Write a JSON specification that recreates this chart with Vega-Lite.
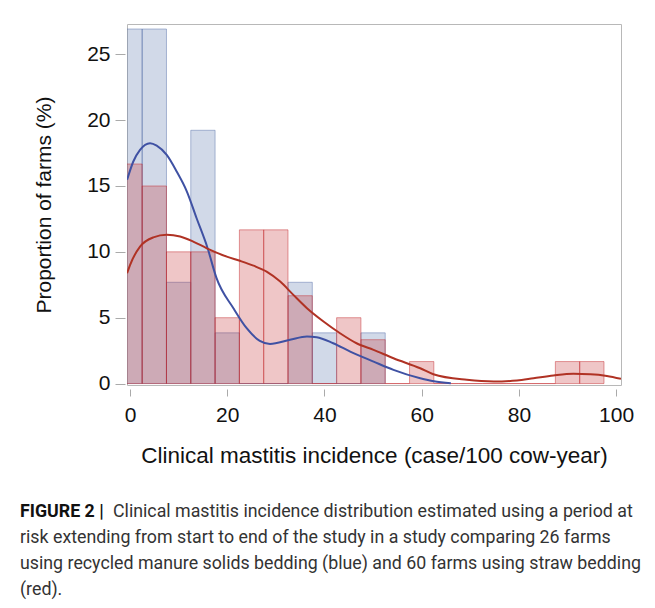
{
  "$schema": "https://vega.github.io/schema/vega-lite/v6.json",
  "padding": {"left": 20, "top": 23, "right": 5, "bottom": 5},
  "background": "white",
  "config": {
    "view": {"stroke": "#b8b8b8", "strokeWidth": 1},
    "font": "Liberation Sans",
    "axis": {
      "labelFont": "Liberation Sans",
      "titleFont": "Liberation Sans",
      "labelFontSize": 21,
      "titleFontWeight": "normal",
      "labelColor": "#111",
      "titleColor": "#111",
      "tickColor": "#aaaaaa",
      "domain": false,
      "grid": false
    }
  },
  "datasets": {
    "bars": [
      {"group": "blue", "start": -2.5, "end": 2.5, "pct": 26.92},
      {"group": "blue", "start": 2.5, "end": 7.5, "pct": 26.92},
      {"group": "blue", "start": 7.5, "end": 12.5, "pct": 7.69},
      {"group": "blue", "start": 12.5, "end": 17.5, "pct": 19.23},
      {"group": "blue", "start": 17.5, "end": 22.5, "pct": 3.85},
      {"group": "blue", "start": 22.5, "end": 27.5, "pct": 0},
      {"group": "blue", "start": 27.5, "end": 32.5, "pct": 0},
      {"group": "blue", "start": 32.5, "end": 37.5, "pct": 7.69},
      {"group": "blue", "start": 37.5, "end": 42.5, "pct": 3.85},
      {"group": "blue", "start": 42.5, "end": 47.5, "pct": 0},
      {"group": "blue", "start": 47.5, "end": 52.5, "pct": 3.85},
      {"group": "red", "start": -2.5, "end": 2.5, "pct": 16.67},
      {"group": "red", "start": 2.5, "end": 7.5, "pct": 15.0},
      {"group": "red", "start": 7.5, "end": 12.5, "pct": 10.0},
      {"group": "red", "start": 12.5, "end": 17.5, "pct": 10.0},
      {"group": "red", "start": 17.5, "end": 22.5, "pct": 5.0},
      {"group": "red", "start": 22.5, "end": 27.5, "pct": 11.67},
      {"group": "red", "start": 27.5, "end": 32.5, "pct": 11.67},
      {"group": "red", "start": 32.5, "end": 37.5, "pct": 6.67},
      {"group": "red", "start": 37.5, "end": 42.5, "pct": 0},
      {"group": "red", "start": 42.5, "end": 47.5, "pct": 5.0},
      {"group": "red", "start": 47.5, "end": 52.5, "pct": 3.33},
      {"group": "red", "start": 52.5, "end": 57.5, "pct": 0},
      {"group": "red", "start": 57.5, "end": 62.5, "pct": 1.67},
      {"group": "red", "start": 62.5, "end": 67.5, "pct": 0},
      {"group": "red", "start": 67.5, "end": 72.5, "pct": 0},
      {"group": "red", "start": 72.5, "end": 77.5, "pct": 0},
      {"group": "red", "start": 77.5, "end": 82.5, "pct": 0},
      {"group": "red", "start": 82.5, "end": 87.5, "pct": 0},
      {"group": "red", "start": 87.5, "end": 92.5, "pct": 1.67},
      {"group": "red", "start": 92.5, "end": 97.5, "pct": 1.67}
    ],
    "curves": [
      {"group": "blue", "x": -0.6, "y": 15.47},
      {"group": "blue", "x": 0.68, "y": 16.86},
      {"group": "blue", "x": 2.06, "y": 17.74},
      {"group": "blue", "x": 4.12, "y": 18.25},
      {"group": "blue", "x": 5.49, "y": 18.07},
      {"group": "blue", "x": 7.55, "y": 17.36},
      {"group": "blue", "x": 9.6, "y": 16.1},
      {"group": "blue", "x": 11.7, "y": 14.58},
      {"group": "blue", "x": 13.7, "y": 12.55},
      {"group": "blue", "x": 15.9, "y": 10.35},
      {"group": "blue", "x": 17.8, "y": 8.0},
      {"group": "blue", "x": 21.3, "y": 5.7},
      {"group": "blue", "x": 24.0, "y": 4.2},
      {"group": "blue", "x": 26.7, "y": 3.24},
      {"group": "blue", "x": 28.8, "y": 3.01},
      {"group": "blue", "x": 32.9, "y": 3.32},
      {"group": "blue", "x": 36.4, "y": 3.57},
      {"group": "blue", "x": 38.4, "y": 3.52},
      {"group": "blue", "x": 41.8, "y": 3.06},
      {"group": "blue", "x": 45.3, "y": 2.43},
      {"group": "blue", "x": 50.1, "y": 1.67},
      {"group": "blue", "x": 54.2, "y": 1.04},
      {"group": "blue", "x": 59.7, "y": 0.4},
      {"group": "blue", "x": 62.5, "y": 0.17},
      {"group": "blue", "x": 66.0, "y": 0.03},
      {"group": "red", "x": -0.6, "y": 8.38},
      {"group": "red", "x": 0.0, "y": 9.0},
      {"group": "red", "x": 2.06, "y": 10.4},
      {"group": "red", "x": 4.8, "y": 11.1},
      {"group": "red", "x": 7.55, "y": 11.29},
      {"group": "red", "x": 10.3, "y": 11.16},
      {"group": "red", "x": 13.0, "y": 10.78},
      {"group": "red", "x": 15.8, "y": 10.27},
      {"group": "red", "x": 19.9, "y": 9.64},
      {"group": "red", "x": 22.6, "y": 9.32},
      {"group": "red", "x": 25.4, "y": 8.95},
      {"group": "red", "x": 28.1, "y": 8.5},
      {"group": "red", "x": 30.9, "y": 7.74},
      {"group": "red", "x": 33.6, "y": 6.73},
      {"group": "red", "x": 36.4, "y": 5.72},
      {"group": "red", "x": 39.8, "y": 4.71},
      {"group": "red", "x": 43.2, "y": 3.82},
      {"group": "red", "x": 46.6, "y": 3.06},
      {"group": "red", "x": 50.1, "y": 2.56},
      {"group": "red", "x": 54.2, "y": 1.92},
      {"group": "red", "x": 59.7, "y": 1.16},
      {"group": "red", "x": 62.4, "y": 0.71},
      {"group": "red", "x": 69.3, "y": 0.28},
      {"group": "red", "x": 74.8, "y": 0.15},
      {"group": "red", "x": 79.6, "y": 0.23},
      {"group": "red", "x": 83.0, "y": 0.4},
      {"group": "red", "x": 87.1, "y": 0.61},
      {"group": "red", "x": 91.2, "y": 0.74},
      {"group": "red", "x": 94.7, "y": 0.71},
      {"group": "red", "x": 98.1, "y": 0.58},
      {"group": "red", "x": 101.0, "y": 0.36}
    ],
    "caption": [
      {"line": 1, "part": "bold", "text": "FIGURE 2 |"},
      {"line": 1, "part": "rest", "text": "Clinical mastitis incidence distribution estimated using a period at"},
      {"line": 2, "part": "body", "text": "risk extending from start to end of the study in a study comparing 26 farms"},
      {"line": 3, "part": "body", "text": "using recycled manure solids bedding (blue) and 60 farms using straw bedding"},
      {"line": 4, "part": "body", "text": "(red)."}
    ]
  },
  "vconcat": [
    {
      "width": 494,
      "height": 361,
      "layer": [
        {
          "data": {"name": "bars"},
          "mark": {"type": "bar", "clip": true, "fillOpacity": 0.26, "strokeOpacity": 0.45, "strokeWidth": 1},
          "encoding": {
            "x": {"field": "start", "type": "quantitative",
              "scale": {"domain": [-0.62, 101.0], "nice": false, "zero": false},
              "axis": {"values": [0, 20, 40, 60, 80, 100], "title": "Clinical mastitis incidence (case/100 cow-year)",
                "offset": 4, "tickSize": 7, "labelPadding": 8, "titlePadding": 19, "titleFontSize": 22.5}},
            "x2": {"field": "end"},
            "y": {"field": "pct", "type": "quantitative",
              "scale": {"domain": [-0.11, 27.3], "nice": false, "zero": false},
              "axis": {"values": [0, 5, 10, 15, 20, 25], "title": "Proportion of farms (%)",
                "offset": 2, "tickSize": 10, "labelPadding": 5, "titlePadding": 32, "titleFontSize": 21}},
            "y2": {"datum": 0},
            "fill": {"field": "group", "type": "nominal", "legend": null,
              "scale": {"domain": ["blue", "red"], "range": ["#4f6ba7", "#c32327"]}},
            "stroke": {"field": "group", "type": "nominal", "legend": null,
              "scale": {"domain": ["blue", "red"], "range": ["#4f6ba7", "#c32327"]}}
          }
        },
        {
          "data": {"name": "curves"},
          "mark": {"type": "line", "strokeWidth": 2, "interpolate": "monotone", "clip": true},
          "encoding": {
            "x": {"field": "x", "type": "quantitative"},
            "y": {"field": "y", "type": "quantitative"},
            "detail": {"field": "group", "type": "nominal"},
            "stroke": {"field": "group", "type": "nominal", "legend": null,
              "scale": {"domain": ["blue", "red"], "range": ["#3f51a3", "#b03224"]}}
          }
        }
      ],
      "resolve": {"scale": {"stroke": "independent"}}
    },
    {
      "width": 494,
      "height": 104,
      "view": {"stroke": null},
      "data": {"name": "caption"},
      "layer": [
        {
          "transform": [{"filter": "datum.part === 'bold'"}],
          "mark": {"type": "text", "align": "left", "baseline": "middle", "font": "Roboto", "fontSize": 17.8, "fontWeight": "bold", "color": "#111", "dx": -107},
          "encoding": {
            "x": {"value": 0},
            "y": {"field": "line", "type": "ordinal", "axis": null, "scale": {"domain": [1, 2, 3, 4]}},
            "text": {"field": "text"}
          }
        },
        {
          "transform": [{"filter": "datum.part === 'rest'"}],
          "mark": {"type": "text", "align": "left", "baseline": "middle", "font": "Roboto", "fontSize": 17.8, "color": "#333", "dx": -14},
          "encoding": {
            "x": {"value": 0},
            "y": {"field": "line", "type": "ordinal", "axis": null, "scale": {"domain": [1, 2, 3, 4]}},
            "text": {"field": "text"}
          }
        },
        {
          "transform": [{"filter": "datum.part === 'body'"}],
          "mark": {"type": "text", "align": "left", "baseline": "middle", "font": "Roboto", "fontSize": 17.8, "color": "#333", "dx": -107},
          "encoding": {
            "x": {"value": 0},
            "y": {"field": "line", "type": "ordinal", "axis": null, "scale": {"domain": [1, 2, 3, 4]}},
            "text": {"field": "text"}
          }
        }
      ]
    }
  ],
  "spacing": 32
}
